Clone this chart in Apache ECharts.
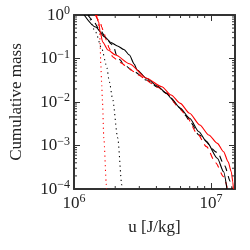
<!DOCTYPE html>
<html><head><meta charset="utf-8">
<script src="https://cdn.jsdelivr.net/npm/echarts@6/dist/echarts.min.js"></script>
<style>html,body{margin:0;padding:0;background:#fff}#c{width:250px;height:250px}</style>
</head><body><div id="c"></div>
<script>
// Data
var blackSolidU = [1.186e6, 1.437e6, 1.68e6, 1.863e6, 2.078e6, 2.315e6, 2.54e6, 2.75e6, 2.89e6, 3.38e6, 4.06e6, 4.74e6, 5.12e6, 5.98e6, 6.99e6, 8.17e6, 9.3e6, 1.115e7, 1.238e7, 1.31e7];
var blackSolidM = [1, 0.53, 0.312, 0.233, 0.194, 0.161, 0.12, 0.0748, 0.0544, 0.0351, 0.0233, 0.0158, 0.0122, 0.00716, 0.00422, 0.00207, 0.00123, 5.1e-4, 2.5e-4, 1e-4];

var redSolidU = [1.453e6, 1.515e6, 1.553e6, 1.62e6, 1.77e6, 2.01e6, 2.54e6, 3.38e6, 4.38e6, 5.12e6, 5.98e6, 6.99e6, 8.3e6, 9.65e6, 1.115e7, 1.238e7, 1.337e7, 1.409e7, 1.446e7, 1.46e7];
var redSolidM = [1, 0.69, 0.407, 0.239, 0.157, 0.12, 0.076, 0.0351, 0.0225, 0.0145, 0.0093, 0.0055, 0.00296, 0.00174, 0.00112, 7.2e-4, 4.2e-4, 2.5e-4, 1.47e-4, 1e-4];

var blackDashedU = [1.263e6, 1.365e6, 1.546e6, 1.724e6, 1.863e6, 1.952e6, 2.045e6, 2.18e6, 2.28e6, 2.75e6, 3.38e6, 4.06e6, 4.74e6, 5.8e6, 6.47e6, 7.18e6, 8.17e6, 1.115e7, 1.262e7, 1.386e7, 1.43e7];
var blackDashedM = [1, 0.767, 0.452, 0.296, 0.219, 0.184, 0.12, 0.0924, 0.0748, 0.0497, 0.032, 0.0221, 0.0158, 0.0078, 0.005, 0.00324, 0.00174, 6.9e-4, 3.4e-4, 1.5e-4, 1e-4];

var redDashedU = [1.43e6, 1.553e6, 1.595e6, 1.645e6, 1.724e6, 1.806e6, 1.913e6, 2.07e6, 2.235e6, 2.415e6, 2.75e6, 2.97e6, 3.38e6, 3.655e6, 4.06e6, 4.74e6, 5.8e6, 6.47e6, 7.95e6, 9.29e6, 1.081e7, 1.24e7, 1.323e7];
var redDashedM = [1, 0.69, 0.53, 0.407, 0.266, 0.174, 0.11, 0.0924, 0.0776, 0.0648, 0.0497, 0.0418, 0.032, 0.0269, 0.0221, 0.0158, 0.0078, 0.0053, 0.0019, 9.4e-4, 4e-4, 1.92e-4, 1e-4];

var blackDottedU = [1.283e6, 1.437e6, 1.595e6, 1.724e6, 1.815e6, 1.913e6, 2.087e6, 2.235e6, 2.245e6];
var blackDottedM = [1, 0.407, 0.168, 0.0698, 0.0288, 0.0119, 0.00149, 1.24e-4, 1e-4];

var redDottedU = [1.476e6, 1.539e6, 1.553e6, 1.57e6, 1.595e6, 1.612e6, 1.652e6, 1.724e6, 1.73e6];
var redDottedM = [1, 0.407, 0.201, 0.0698, 0.0242, 0.0111, 0.00149, 1.24e-4, 1e-4];

var xMinorTicks = [2e6, 3e6, 4e6, 5e6, 6e6, 7e6, 8e6, 9e6];
var yMinorTicks = [];
[1e-4, 1e-3, 1e-2, 1e-1].forEach(function (d) { for (var k = 2; k <= 9; k++) yMinorTicks.push(k * d); });

var xMin = 1e6, xMax = 1.5e7, yMin = 1e-4, yMax = 1;

function zip(a, b) { return a.map(function (v, i) { return [v, b[i]]; }); }
var FONT = '"Liberation Serif", "DejaVu Serif", serif';
var TXT = '#222';
var FRAME = '#333';

function powLabel(v) {
  var e = Math.log10(v);
  var r = Math.round(e);
  if (Math.abs(e - r) > 1e-6) return '';
  var s = r < 0 ? '\u2212' + (-r) : String(r);
  return '{b|10}{e|' + s + '}';
}
var rich = {
  b: { fontSize: 17, fontFamily: FONT, color: TXT, verticalAlign: 'bottom', lineHeight: 18 },
  e: { fontSize: 12, fontFamily: FONT, color: TXT, verticalAlign: 'bottom', lineHeight: 18, padding: [0, 0, 7, 0] }
};

function lineSeries(u, m, color, type) {
  return {
    type: 'line', data: zip(u, m), showSymbol: false, smooth: 0.25, smoothMonotone: 'x',
    lineStyle: { color: color, width: 1.1, type: type },
    xAxisIndex: 0, yAxisIndex: 0, z: 3
  };
}

var chart = echarts.init(document.getElementById('c'), null, { renderer: 'canvas' });
var axisLine = { show: true, lineStyle: { color: FRAME, width: 2 } };
var tick = { show: true, inside: true, length: 6, lineStyle: { color: FRAME, width: 1 } };

chart.setOption({
  animation: false,
  grid: { left: 60, right: 15, top: 15, bottom: 61 },
  xAxis: [{
    type: 'log', logBase: 10, min: xMin, max: xMax, position: 'bottom',
    axisLine: axisLine, axisTick: tick, splitLine: { show: false },
    axisLabel: { formatter: powLabel, rich: rich, margin: 5, showMaxLabel: false },
    name: 'u [J/kg]', nameLocation: 'middle', nameGap: 30,
    nameTextStyle: { fontFamily: FONT, fontSize: 17, color: TXT }
  }, {
    type: 'log', logBase: 10, min: xMin, max: xMax, position: 'top',
    axisLine: axisLine, axisTick: tick, splitLine: { show: false }, axisLabel: { show: false }
  }],
  yAxis: [{
    type: 'log', logBase: 10, min: yMin, max: yMax, position: 'left',
    axisLine: axisLine, axisTick: tick, splitLine: { show: false },
    axisLabel: { formatter: powLabel, rich: rich, margin: 4 },
    name: 'Cumulative mass', nameLocation: 'middle', nameGap: 49, nameRotate: 90,
    nameTextStyle: { fontFamily: FONT, fontSize: 17, color: TXT }
  }, {
    type: 'log', logBase: 10, min: yMin, max: yMax, position: 'right',
    axisLine: axisLine, axisTick: tick, splitLine: { show: false }, axisLabel: { show: false }
  }],
  series: [
    lineSeries(blackDottedU, blackDottedM, '#000', [1.2, 3.5]),
    lineSeries(redDottedU, redDottedM, '#ff0000', [1.2, 3.5]),
    lineSeries(blackDashedU, blackDashedM, '#000', [6, 5]),
    lineSeries(redDashedU, redDashedM, '#ff0000', [6, 5]),
    lineSeries(blackSolidU, blackSolidM, '#000', 'solid'),
    lineSeries(redSolidU, redSolidM, '#ff0000', 'solid'),
    {
      type: 'custom', xAxisIndex: 0, yAxisIndex: 0, silent: true, z: 5,
      data: xMinorTicks.map(function (v) { return [v]; }),
      renderItem: function (params, api) {
        var b = api.coord([api.value(0), yMin]);
        var t = api.coord([api.value(0), yMax]);
        var st = { stroke: FRAME, lineWidth: 1 };
        return { type: 'group', children: [
          { type: 'line', shape: { x1: b[0], y1: b[1], x2: b[0], y2: b[1] - 3 }, style: st },
          { type: 'line', shape: { x1: t[0], y1: t[1], x2: t[0], y2: t[1] + 3 }, style: st }
        ] };
      }
    },
    {
      type: 'custom', xAxisIndex: 0, yAxisIndex: 0, silent: true, z: 5,
      data: yMinorTicks.map(function (v) { return [xMin, v]; }),
      renderItem: function (params, api) {
        var l = api.coord([xMin, api.value(1)]);
        var r = api.coord([xMax, api.value(1)]);
        var st = { stroke: FRAME, lineWidth: 1 };
        return { type: 'group', children: [
          { type: 'line', shape: { x1: l[0], y1: l[1], x2: l[0] + 3, y2: l[1] }, style: st },
          { type: 'line', shape: { x1: r[0], y1: r[1], x2: r[0] - 3, y2: r[1] }, style: st }
        ] };
      }
    }
  ]
});
</script></body></html>
